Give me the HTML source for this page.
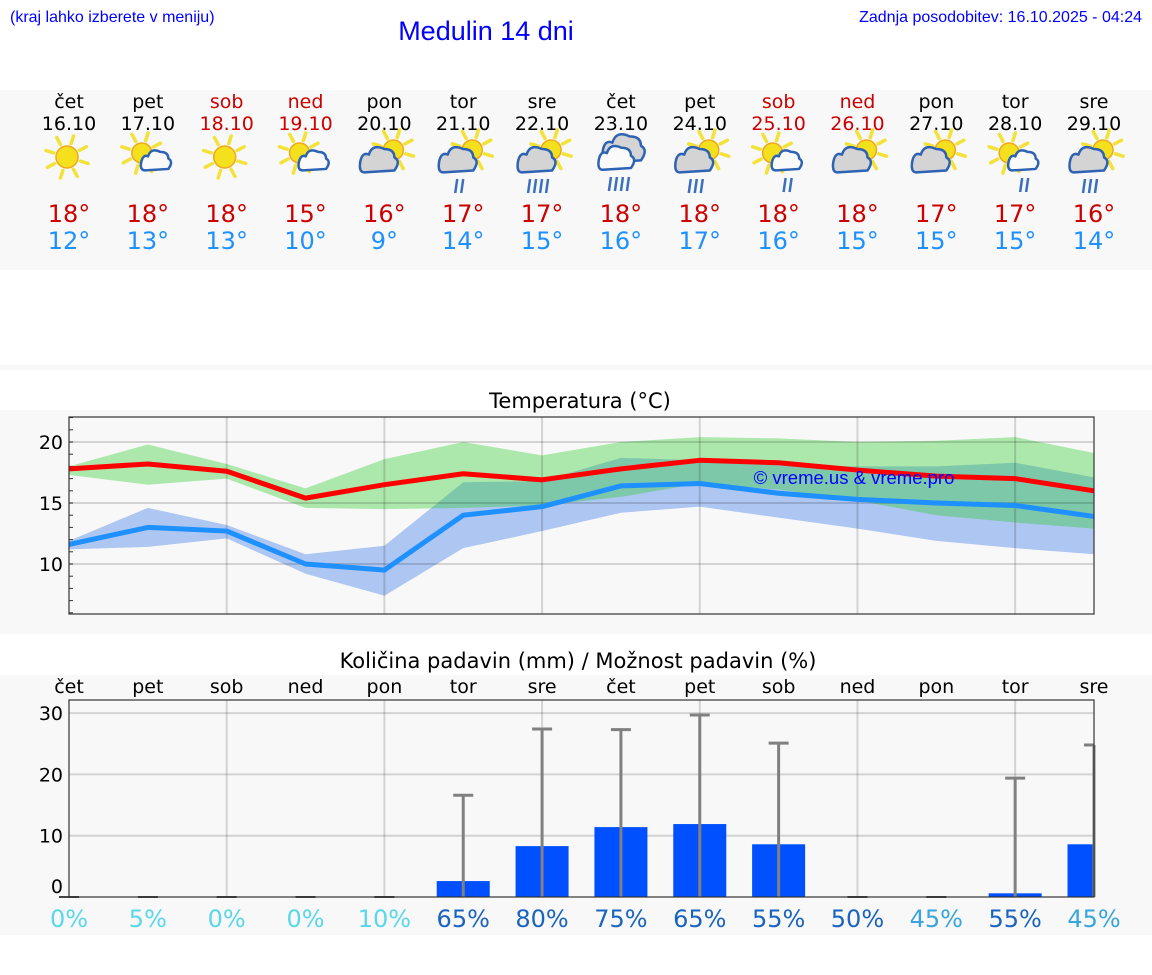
<!DOCTYPE html>
<html><head><meta charset="utf-8">
<style>
html,body{margin:0;padding:0;background:#fff;}
svg{display:block;}
text{font-family:"DejaVu Sans","Liberation Sans",sans-serif;}
.ls{font-family:"Liberation Sans",sans-serif;}
</style></head>
<body>
<svg id="root" width="1152" height="975" viewBox="0 0 1152 975" xmlns="http://www.w3.org/2000/svg">
<rect x="0" y="90" width="1152" height="180" fill="#f8f8f8"/>
<rect x="0" y="365" width="1152" height="5" fill="#f8f8f8"/>
<rect x="0" y="410" width="1152" height="224" fill="#f8f8f8"/>
<rect x="0" y="675" width="1152" height="260" fill="#f8f8f8"/>
<text class="ls" x="10" y="22" font-size="16" fill="#0000ff">(kraj lahko izberete v meniju)</text>
<text class="ls" x="486" y="40" font-size="27" fill="#0000ff" text-anchor="middle">Medulin 14 dni</text>
<text class="ls" x="1142" y="22" font-size="16" fill="#0000ff" text-anchor="end">Zadnja posodobitev: 16.10.2025 - 04:24</text>
<g id="hdr"></g>
<text x="580" y="408" font-size="21" text-anchor="middle" fill="#000">Temperatura (°C)</text>
<g id="temp"></g>
<text x="578" y="668" font-size="21" text-anchor="middle" fill="#000">Količina padavin (mm) / Možnost padavin (%)</text>
<g id="prec"></g>
</svg>
<script>
const days=["čet","pet","sob","ned","pon","tor","sre","čet","pet","sob","ned","pon","tor","sre"];
const dates=["16.10","17.10","18.10","19.10","20.10","21.10","22.10","23.10","24.10","25.10","26.10","27.10","28.10","29.10"];
const weekend=[0,0,1,1,0,0,0,0,0,1,1,0,0,0];
const icons=["sun","sc","sun","sc","cs","csr2","csr4","big","csr3","scr","cs","cs","scr","csr3"];
const maxT=[18,18,18,15,16,17,17,18,18,18,18,17,17,16];
const minT=[12,13,13,10,9,14,15,16,17,16,15,15,15,14];
const maxLine=[17.8,18.2,17.6,15.4,16.5,17.4,16.9,17.8,18.5,18.3,17.7,17.2,17.0,16.0];
const maxHi=[18.0,19.8,18.2,16.2,18.6,20.0,18.9,20.0,20.4,20.3,20.0,20.1,20.4,19.1];
const maxLo=[17.3,16.5,17.0,14.6,14.5,14.6,14.8,15.5,16.6,16.1,15.2,14.0,13.4,12.9];
const minLine=[11.6,13.0,12.7,10.0,9.5,14.0,14.7,16.4,16.6,15.8,15.3,15.0,14.8,13.9];
const minHi=[11.9,14.6,13.2,10.8,11.5,16.7,16.8,18.7,18.5,18.1,18.0,18.0,18.3,17.1];
const minLo=[11.2,11.4,12.1,9.2,7.4,11.3,12.7,14.2,14.7,13.8,12.9,11.9,11.3,10.8];
const rain=[0,0,0,0,0,2.6,8.3,11.4,11.9,8.6,0,0,0.6,8.6];
const rainMax=[0,0,0,0,0,16.6,27.4,27.3,29.7,25.1,0,0,19.4,24.8];
const chance=[0,5,0,0,10,65,80,75,65,55,50,45,55,45];
const tempTicks=[10,15,20];
const rainTicks=[0,10,20,30];

const NS="http://www.w3.org/2000/svg";
function mk(p,tag,a,txt){const e=document.createElementNS(NS,tag);for(const k in a)e.setAttribute(k,a[k]);if(txt!==undefined)e.textContent=txt;p.appendChild(e);return e;}
const X0=69,X1=1094;
const xs=i=>X0+i*(X1-X0)/13;
const yT=v=>442+(20-v)*12.2;
const yP=v=>897-v*6.13;

const hdr=document.getElementById('hdr');
function sun(g,cx,cy,r){
  for(let k=0;k<8;k++){const a=k*Math.PI/4+0.3;
    mk(g,'line',{x1:cx+Math.cos(a)*(r+3),y1:cy+Math.sin(a)*(r+3),x2:cx+Math.cos(a)*(r+11),y2:cy+Math.sin(a)*(r+11),stroke:'#f3e23a','stroke-width':3.5,'stroke-linecap':'round'});}
  mk(g,'circle',{cx:cx,cy:cy,r:r,fill:'#f4e01c',stroke:'#f0a81c','stroke-width':1.5});
}
function cl(g,cx,cy,w,fill){
  const h=w*0.55;
  mk(g,'path',{d:`M${cx-w/2},${cy+h/2} q-6,0 -4,-${h*0.6} q2,-${h*0.5} ${w*0.25},-${h*0.35} q${w*0.1},-${h*0.6} ${w*0.45},-${h*0.3} q${w*0.3},0 ${w*0.3},${h*0.45} q${w*0.2},${h*0.2} 0,${h*0.7} z`,fill:fill,stroke:'#2e62b2','stroke-width':2.5,'stroke-linejoin':'round'});
}
function rainD(g,cx,cy,n){for(let k=0;k<n;k++){mk(g,'line',{x1:cx+k*6-n*3+4,y1:cy,x2:cx+k*6-n*3+2,y2:cy+14,stroke:'#3a6fc0','stroke-width':2.5});}}
for(let i=0;i<14;i++){
  const x=xs(i);const c=weekend[i]?'#cc0000':'#000';
  const t1=mk(hdr,'text',{x:x,y:108,'font-size':19,'text-anchor':'middle',fill:c},days[i]);
  
  
  const t2=mk(hdr,'text',{x:x,y:130,'font-size':19,'text-anchor':'middle',fill:c},dates[i]);
  
  
  const g=mk(hdr,'g',{});
  
  
  const ic=icons[i];
  if(ic==='sun'){sun(g,x-2,157,11);}
  else if(ic==='sc'||ic==='scr'){sun(g,x-6,153,10);cl(g,x+11,163,27,'#fafafa');if(ic==='scr')rainD(g,x+9,178,2);}
  else if(ic.startsWith('cs')){sun(g,x+9,150,10);cl(g,x-3,163,34,'#d4d4d4');if(ic.startsWith('csr'))rainD(g,x-4,179,+ic[3]);}
  else if(ic==='big'){cl(g,x+5,152,38,'#d4d4d4');cl(g,x-2,161,32,'#fafafa');rainD(g,x-2,177,4);}
  const t3=mk(hdr,'text',{x:x,y:222,'font-size':24,'text-anchor':'middle',fill:'#cc0000'},maxT[i]+'°');
  
  
  const t4=mk(hdr,'text',{x:x,y:249,'font-size':24,'text-anchor':'middle',fill:'#1e90ff'},minT[i]+'°');
  
  
}

const tg=document.getElementById('temp');
function band(hi,lo,fill,op,name){
  let d='M'+hi.map((v,i)=>xs(i)+','+yT(v)).join(' L');
  for(let i=13;i>=0;i--)d+=' L'+xs(i)+','+yT(lo[i]);
  const p=mk(tg,'path',{d:d+' Z',fill:fill,'fill-opacity':op});
  
  
}
band(minHi,minLo,'#aec6f2',1,'min-temp-range');
band(maxHi,maxLo,'#26cc26',0.36,'max-temp-range');
for(let i=2;i<14;i+=2)mk(tg,'line',{x1:xs(i),y1:417,x2:xs(i),y2:614,stroke:'#000','stroke-opacity':0.15,'stroke-width':2});
tempTicks.forEach(v=>{
  mk(tg,'line',{x1:X0,y1:yT(v),x2:X1,y2:yT(v),stroke:'#000','stroke-opacity':0.15,'stroke-width':2});
  const t=mk(tg,'text',{x:63,y:yT(v)+7,'font-size':19,'text-anchor':'end',fill:'#000'},v);
  
  
});
for(let v=6;v<=22;v++)mk(tg,'line',{x1:X0,y1:yT(v),x2:X0+4,y2:yT(v),stroke:'#333','stroke-width':1});
function line(arr,col,name){
  const p=mk(tg,'polyline',{points:arr.map((v,i)=>xs(i)+','+yT(v)).join(' '),fill:'none',stroke:col,'stroke-width':5,'stroke-linejoin':'round'});
  
  
}
line(minLine,'#1e90ff','min-temp-line');
line(maxLine,'#ff0000','max-temp-line');
mk(tg,'rect',{x:X0,y:417,width:X1-X0,height:197,fill:'none',stroke:'#333','stroke-width':1.2});
const wm=mk(tg,'text',{x:854,y:484,'font-size':18.5,'text-anchor':'middle',fill:'#0000ff',class:'ls'},'© vreme.us & vreme.pro');



const pg=document.getElementById('prec');
for(let i=2;i<14;i+=2)mk(pg,'line',{x1:xs(i),y1:700,x2:xs(i),y2:897,stroke:'#000','stroke-opacity':0.15,'stroke-width':2});
rainTicks.forEach(v=>{
  if(v>0)mk(pg,'line',{x1:X0,y1:yP(v),x2:X1,y2:yP(v),stroke:'#000','stroke-opacity':0.15,'stroke-width':2});
  const t=mk(pg,'text',{x:63,y:(v===0?yP(v)-4:yP(v)+7),'font-size':19,'text-anchor':'end',fill:'#000'},v);
  
  
});
const chCol=v=>v<=10?'#5ad7ea':(v>=50?'#1a63bf':'#3aa4dc');
for(let i=0;i<14;i++){
  const x=xs(i);
  const t=mk(pg,'text',{x:x,y:693,'font-size':19,'text-anchor':'middle',fill:'#000'},days[i]);
  
  
  if(rain[i]>0){
    const b=mk(pg,'rect',{x:x-26.5,y:yP(rain[i]),width:Math.min(53,X1-(x-26.5)),height:yP(0)-yP(rain[i]),fill:'#0050ff'});
    
    
  }
  const top=yP(rainMax[i]);
  const e=mk(pg,'g',{});
  
  
  if(rainMax[i]>0)mk(e,'line',{x1:x,y1:top,x2:x,y2:897,stroke:'#808080','stroke-width':3});
  mk(e,'line',{x1:x-10,y1:top,x2:Math.min(x+10,X1),y2:top,stroke:rainMax[i]>0?'#808080':'#444','stroke-width':rainMax[i]>0?3:2});
  const c=mk(pg,'text',{x:x,y:927,'font-size':24,'text-anchor':'middle',fill:chCol(chance[i])},chance[i]+'%');
  
  
}
mk(pg,'rect',{x:X0,y:700,width:X1-X0,height:197,fill:'none',stroke:'#333','stroke-width':1.2});
</script>
</body></html>
